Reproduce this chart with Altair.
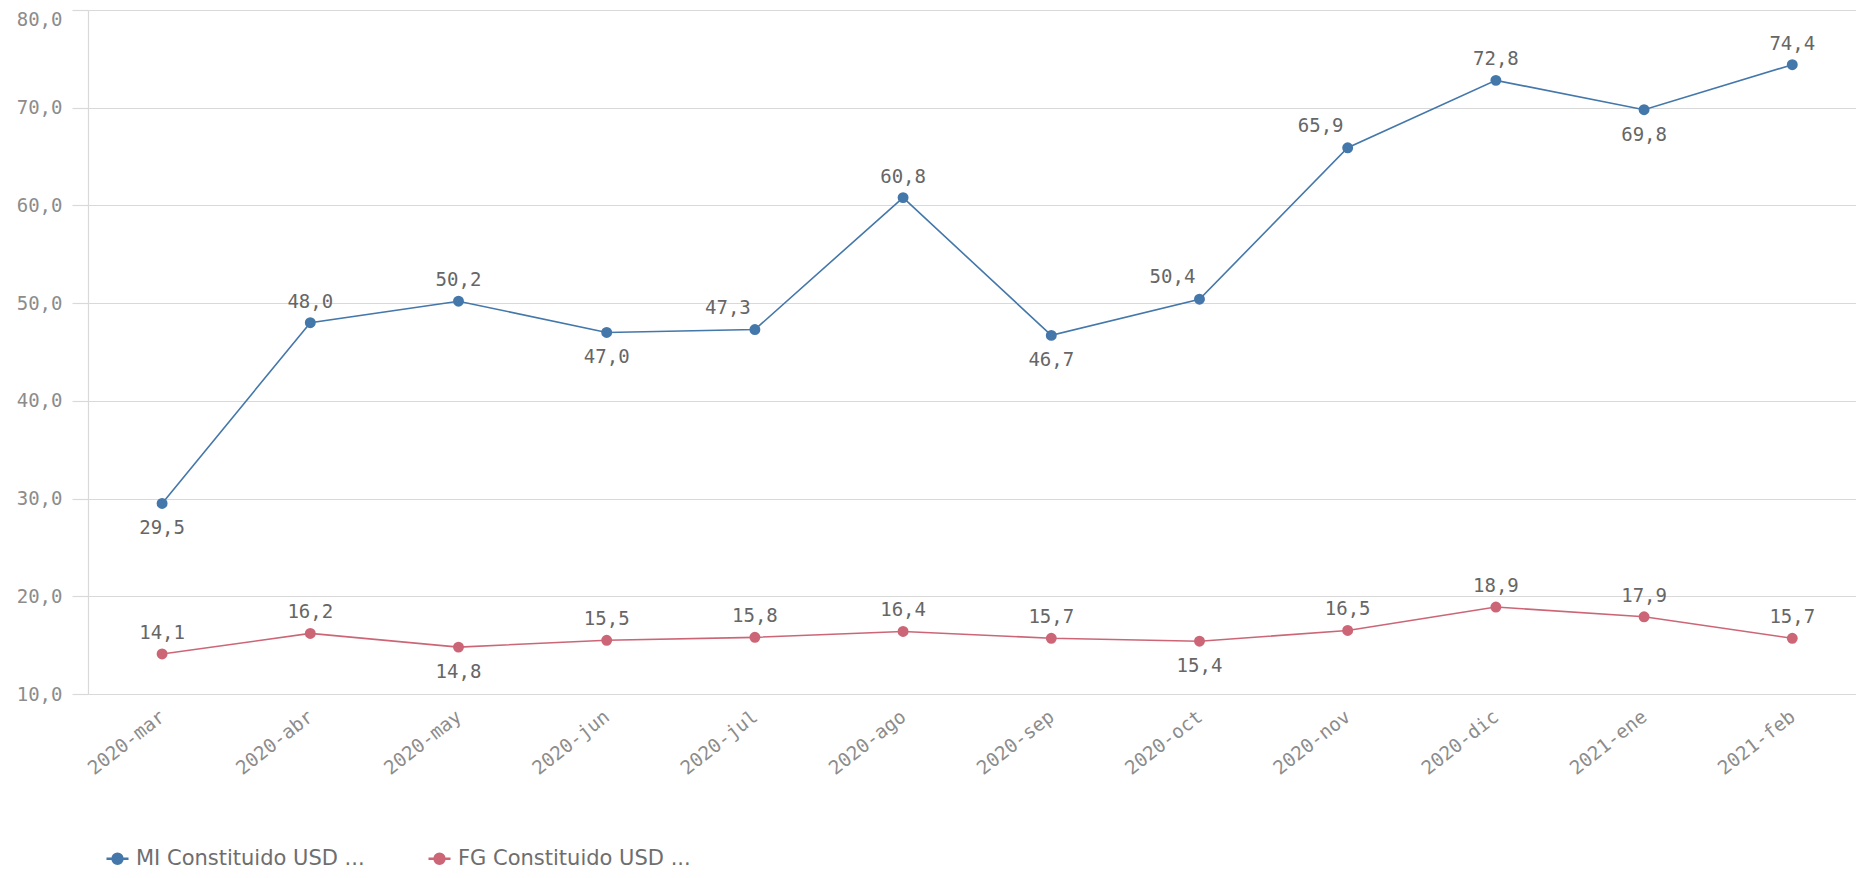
import json
import altair as alt
import pandas as pd

months = ["2020-mar", "2020-abr", "2020-may", "2020-jun", "2020-jul", "2020-ago",
          "2020-sep", "2020-oct", "2020-nov", "2020-dic", "2021-ene", "2021-feb"]
mi_values = [29.5, 48.0, 50.2, 47.0, 47.3, 60.8, 46.7, 50.4, 65.9, 72.8, 69.8, 74.4]
fg_values = [14.1, 16.2, 14.8, 15.5, 15.8, 16.4, 15.7, 15.4, 16.5, 18.9, 17.9, 15.7]
series_names = ["MI Constituido USD ...", "FG Constituido USD ..."]
series_colors = ["#4477aa", "#cc6677"]
y_ticks = [10, 20, 30, 40, 50, 60, 70, 80]

# label placement (Qlik-style): which labels go below the point / nudged left
labels_below = {series_names[0]: {"2020-mar", "2020-jun", "2020-sep", "2021-ene"},
                series_names[1]: {"2020-may", "2020-oct"}}
labels_left = {series_names[0]: {"2020-jul", "2020-oct", "2020-nov"},
               series_names[1]: set()}

rows = []
for name, vals in zip(series_names, [mi_values, fg_values]):
    for i, (m, v) in enumerate(zip(months, vals)):
        if m in labels_below[name]:
            pos = "below"
        elif m in labels_left[name]:
            pos = "left"
        else:
            pos = "above"
        rows.append({"idx": i, "month": m, "serie": name, "value": v, "pos": pos})
df = pd.DataFrame(rows)

color_scale = alt.Scale(domain=series_names, range=series_colors)
num_font = "DejaVu Sans Mono"
month_lookup = json.dumps(months)

x_enc = alt.X("idx:Q",
              scale=alt.Scale(domain=[-0.5, 11.43], nice=False, zero=False),
              axis=alt.Axis(title=None, values=list(range(len(months))),
                            labelExpr=f"{month_lookup}[datum.value]",
                            labelAngle=-38, labelAlign="right",
                            labelBaseline="middle", labelPadding=20, ticks=False,
                            tickSize=0, domain=False, grid=False, labelFont=num_font,
                            labelFontSize=19, labelColor="#8c8c8c",
                            labelOverlap=False, labelFlush=False))
y_enc = alt.Y("value:Q", scale=alt.Scale(domain=[10, 80], nice=False, zero=False),
              axis=alt.Axis(title=None, values=y_ticks,
                            labelExpr="replace(format(datum.value, '.1f'), '.', ',')",
                            grid=True, gridColor="#d9d9d9", gridWidth=1.2,
                            tickColor="#d9d9d9", tickSize=16, tickWidth=1.2,
                            domainColor="#d9d9d9", domainWidth=1.2,
                            labelPadding=10, labelFont=num_font, labelFontSize=19,
                            labelColor="#8c8c8c",
                            labelBaseline={"expr": "datum.value == 80 ? 'top' : 'middle'"}))

legend_obj = alt.Legend(
    title=None, orient="none", legendX=17, legendY=836, direction="horizontal",
    symbolType="M-1,0L1,0M-0.45,0A0.45,0.45 0 1,0 0.45,0A0.45,0.45 0 1,0 -0.45,0Z",
    symbolSize=484, symbolStrokeWidth=2.5, labelFont="DejaVu Sans", labelFontSize=21,
    labelColor="#6e6e6e", labelLimit=500, columnPadding=58, labelOffset=6)

base = alt.Chart(df).transform_calculate(
    label="replace(format(datum.value, '.1f'), '.', ',')")

line = base.mark_line(strokeWidth=1.6).encode(
    x=x_enc, y=y_enc, stroke=alt.Stroke("serie:N", scale=color_scale, legend=legend_obj))

points = base.mark_point(filled=True, size=80, opacity=1).encode(
    x=x_enc, y=y_enc,
    fill=alt.Fill("serie:N", scale=color_scale, legend=legend_obj),
    stroke=alt.Stroke("serie:N", scale=color_scale, legend=legend_obj))

placements = {"above": (0, -21), "below": (0, 25), "left": (-27, -22)}
text_layers = []
for pos, (dx, dy) in placements.items():
    text_layers.append(
        base.transform_filter(alt.datum.pos == pos).mark_text(
            dx=dx, dy=dy, font=num_font, fontSize=19, color="#666666",
            baseline="middle", align="center").encode(
            x=x_enc, y=y_enc, text="label:N"))

chart = alt.layer(line, points, *text_layers).properties(
    width=1768, height=684, autosize="none",
    padding={"left": 80, "top": 2, "right": 0, "bottom": 176},
).configure_view(stroke=None).configure(background="white")

chart.save("out.html", embed_options={"renderer": "svg", "actions": False})
